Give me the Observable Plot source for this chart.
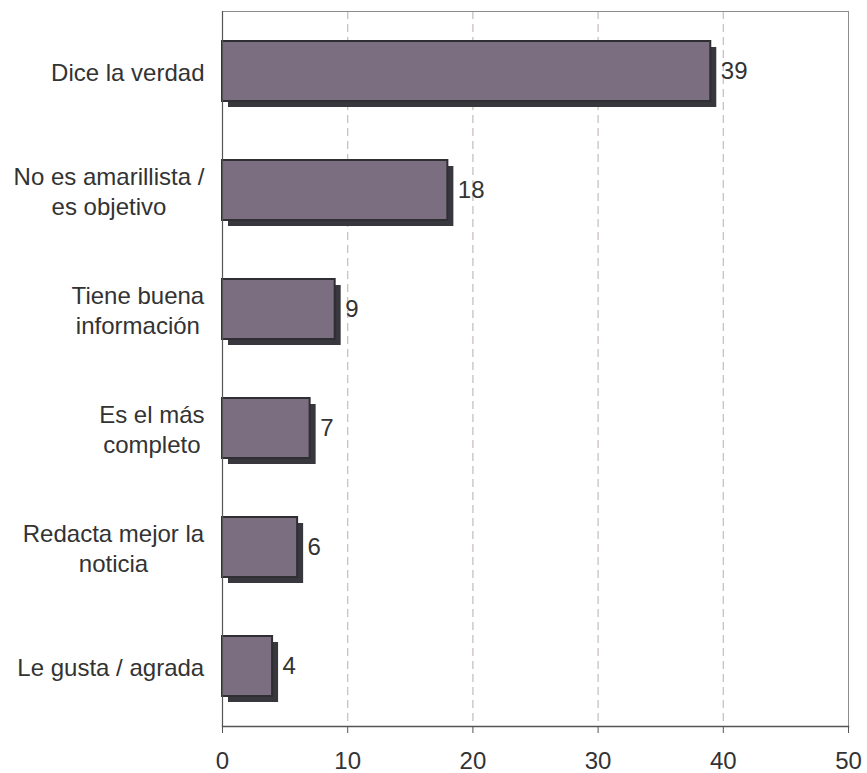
<!DOCTYPE html>
<html>
<head>
<meta charset="utf-8">
<script src="https://cdn.jsdelivr.net/npm/d3@7"></script>
<script src="https://cdn.jsdelivr.net/npm/@observablehq/plot@0.6"></script>
<style>
  html, body { margin: 0; padding: 0; background: #ffffff; }
</style>
</head>
<body>
<div id="chart"></div>
<script>
const categories = [
  "Dice la verdad",
  "No es amarillista /\nes objetivo",
  "Tiene buena\ninformación",
  "Es el más\ncompleto",
  "Redacta mejor la\nnoticia",
  "Le gusta / agrada"
];
const values = [39, 18, 9, 7, 6, 4];
const xTicks = [0, 10, 20, 30, 40, 50];

const data = categories.map((c, i) => ({category: c, value: values[i]}));
const FONT = "'Liberation Sans', Arial, Helvetica, sans-serif";

const chart = Plot.plot({
  width: 867,
  height: 773,
  marginLeft: 222,
  marginRight: 19,
  marginTop: 11,
  marginBottom: 47,
  style: {fontFamily: FONT, fontSize: "24px", color: "#333333", background: "#ffffff"},
  x: {domain: [0, 50], ticks: xTicks},
  y: {domain: categories, paddingInner: 0.5, paddingOuter: 0.25, axis: null},
  marks: [
    Plot.gridX(xTicks.slice(1, -1), {stroke: "#c6bcbc", strokeOpacity: 1, strokeWidth: 1.2, strokeDasharray: "8,5"}),
    Plot.frame({anchor: "top", stroke: "#8c8c8c"}),
    Plot.frame({anchor: "right", stroke: "#8c8c8c"}),
    Plot.barX(data, {x: "value", y: "category", fill: "#38373d", dx: 6, dy: 6}),
    Plot.barX(data, {x: "value", y: "category", fill: "#7b6e80", stroke: "#2f2e33", strokeWidth: 2}),
    Plot.ruleX([0], {stroke: "#555555", strokeWidth: 1.2}),
    Plot.frame({anchor: "bottom", stroke: "#555555", strokeWidth: 1.5}),
    Plot.axisX({ticks: xTicks, tickSize: 7, tickPadding: 18, stroke: "#555555", fontSize: 24, fill: "#333333", label: null}),
    Plot.text(data, {x: "value", y: "category", text: d => String(d.value), textAnchor: "start", dx: 10, fontSize: 24, fill: "#333333"}),
    Plot.axisY({tickSize: 0, tickPadding: 18, textAnchor: "middle", lineHeight: 1.25, fontSize: 24, fill: "#333333", label: null, ariaLabel: "y-axis"})
  ]
});

document.getElementById("chart").appendChild(chart);

// Excel-like wrapped labels: each block right-aligned to the axis, lines centered within the block
const yLabels = chart.querySelectorAll('g[aria-label="y-axis tick label"] text');
yLabels.forEach(t => {
  const w = t.getBBox().width;
  const tr = t.getAttribute("transform") || "";
  t.setAttribute("transform", tr + ` translate(${-w / 2},0)`);
});
</script>
</body>
</html>
